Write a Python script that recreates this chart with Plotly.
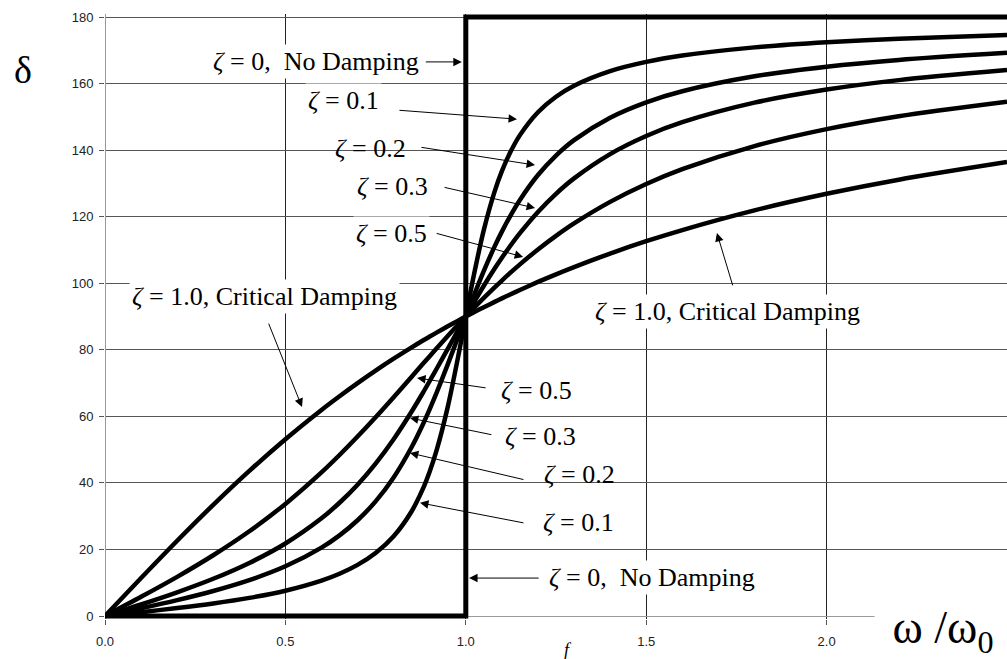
import plotly.graph_objects as go

# Frequency ratio omega/omega_0 at which each phase curve is sampled
ratio = [0, 0.1, 0.2, 0.3, 0.4, 0.5, 0.6, 0.65, 0.7, 0.75, 0.8, 0.85, 0.88, 0.9, 0.92, 0.95, 0.98, 1.0,
         1.02, 1.05, 1.08, 1.1, 1.12, 1.15, 1.2, 1.25, 1.3, 1.4, 1.5, 1.6, 1.8, 2.0, 2.2, 2.5]

# Phase angle delta (degrees) for each damping ratio zeta
delta_z01 = [0, 1.16, 2.39, 3.77, 5.44, 7.59, 10.62, 12.69, 15.35, 18.92, 23.96, 31.49, 37.96, 43.45,
             50.14, 62.84, 78.58, 90, 101.20, 116.02, 127.61, 133.67, 138.64, 144.50, 151.39, 156.04,
             159.35, 163.74, 166.50, 168.41, 170.87, 172.41, 173.46, 174.56]
delta_z02 = [0, 2.31, 4.76, 7.51, 10.78, 14.93, 20.56, 24.24, 28.77, 34.44, 41.63, 50.78, 57.34, 62.18,
             67.34, 75.61, 84.23, 90, 95.65, 103.71, 111.07, 115.51, 119.59, 125.03, 132.51, 138.37,
             143.00, 149.74, 154.36, 157.69, 162.18, 165.07, 167.09, 169.22]
delta_z03 = [0, 3.47, 7.13, 11.19, 15.95, 21.80, 29.36, 34.03, 39.47, 45.81, 53.13, 61.45, 66.86, 70.62,
             74.45, 80.29, 86.15, 90, 93.78, 99.24, 104.40, 107.65, 110.74, 115.05, 121.43, 126.87,
             131.50, 138.81, 144.25, 148.39, 154.26, 158.20, 161.03, 164.05]
delta_z05 = [0, 5.77, 11.77, 18.25, 25.46, 33.69, 43.15, 48.38, 53.93, 59.74, 65.77, 71.92, 75.62, 78.08,
             80.52, 84.14, 87.69, 90, 92.27, 95.58, 98.76, 100.81, 102.80, 105.67, 110.14, 114.23,
             117.96, 124.44, 129.81, 134.28, 141.22, 146.31, 150.19, 154.54]
delta_z10 = [0, 11.42, 22.62, 33.40, 43.60, 53.13, 61.93, 66.04, 69.98, 73.74, 77.32, 80.72, 82.70, 83.97,
             85.22, 87.06, 88.84, 90, 91.13, 92.79, 94.40, 95.45, 96.48, 97.98, 100.39, 102.68,
             104.86, 108.92, 112.62, 115.98, 121.89, 126.87, 131.11, 136.40]

# Undamped case: a step from 0 to 180 degrees at resonance
undamped_ratio = [0, 1.0, 1.0, 2.5]
undamped_delta = [0, 0, 180, 180]

x_ticks = [0.0, 0.5, 1.0, 1.5, 2.0]
x_tick_labels = ["0.0", "0.5", "1.0", "1.5", "2.0"]
y_ticks = [0, 20, 40, 60, 80, 100, 120, 140, 160, 180]

SERIF = "Liberation Serif, Times New Roman, serif"
SANS = "Liberation Sans, Arial, sans-serif"
Z = "<i>ζ</i>"
SP = "\u00a0"

fig = go.Figure()

fig.add_trace(go.Scatter(x=undamped_ratio, y=undamped_delta, mode="lines",
                         line=dict(color="black", width=5), showlegend=False))
for d in [delta_z10, delta_z05, delta_z03, delta_z02, delta_z01]:
    fig.add_trace(go.Scatter(x=ratio, y=d, mode="lines",
                             line=dict(color="black", width=4.5, shape="spline", smoothing=0.8),
                             showlegend=False))


def label(text, x, y, bg=True, size=26):
    return dict(x=x, y=y, xref="x", yref="y", text=text, showarrow=False,
                font=dict(family=SERIF, size=size, color="black"),
                bgcolor="white" if bg else "rgba(0,0,0,0)", borderpad=2)


def arrow(x0, y0, x1, y1):
    return dict(x=x1, y=y1, ax=x0, ay=y0, xref="x", yref="y", axref="x", ayref="y",
                text="", showarrow=True, arrowhead=2, arrowsize=1.7, arrowwidth=1,
                arrowcolor="black")


def title(text, x, y, size, **extra):
    return dict(x=x, y=y, xref="paper", yref="paper", xanchor="center", yanchor="middle",
                text=text, showarrow=False,
                font=dict(family=SERIF, size=size, color="black"), **extra)


annotations = [
    # labels for the curves above resonance
    label(f"{Z}{SP}={SP}0,{SP}{SP}No Damping", 0.584, 166.5),
    label(f"{Z}{SP}={SP}0.1", 0.662, 155.0),
    label(f"{Z}{SP}={SP}0.2", 0.737, 140.6, bg=False),
    label(f"{Z}{SP}={SP}0.3", 0.798, 129.2, bg=False),
    label(f"{Z}{SP}={SP}0.5", 0.793, 114.8),
    label(f"{Z}{SP}={SP}1.0, Critical Damping", 0.443, 96.0),
    label(f"{Z}{SP}={SP}1.0, Critical Damping", 1.724, 91.6),
    # labels for the curves below resonance
    label(f"{Z}{SP}={SP}0.5", 1.195, 67.9, bg=False),
    label(f"{Z}{SP}={SP}0.3", 1.206, 53.8, bg=False),
    label(f"{Z}{SP}={SP}0.2", 1.314, 42.4, bg=False),
    label(f"{Z}{SP}={SP}0.1", 1.311, 28.2, bg=False),
    label(f"{Z}{SP}={SP}0,{SP}{SP}No Damping", 1.516, 11.7),
    # pointer arrows
    arrow(0.885, 166.5, 0.989, 166.5),
    arrow(0.812, 152.0, 1.142, 149.3),
    arrow(0.873, 140.9, 1.192, 135.5),
    arrow(0.937, 128.9, 1.192, 122.6),
    arrow(0.915, 115.1, 1.159, 107.9),
    arrow(0.452, 88.3, 0.546, 62.8),
    arrow(1.741, 98.9, 1.696, 115.1),
    arrow(1.059, 68.5, 0.865, 71.5),
    arrow(1.075, 54.4, 0.845, 59.5),
    arrow(1.164, 40.9, 0.845, 49.0),
    arrow(1.164, 27.9, 0.873, 34.0),
    arrow(1.206, 11.4, 1.009, 11.4),
    # axis titles
    title("δ", -0.0909, 0.9074, 38),
    title("ω /ω<sub>0</sub>", 0.929, -0.020, 46, bgcolor="white", width=136,
          align="center", borderpad=0),
    title("<i>f</i>", 0.5133, -0.051, 18),
]

fig.update_layout(
    width=1007, height=659,
    margin=dict(l=105, r=0, t=14, b=40),
    paper_bgcolor="white", plot_bgcolor="white",
    annotations=annotations,
    xaxis=dict(range=[0, 2.5], tickvals=x_ticks, ticktext=x_tick_labels,
               showgrid=True, gridcolor="#222222", gridwidth=1,
               zeroline=True, zerolinecolor="#9a9a9a", zerolinewidth=1,
               showline=False, ticks="outside", ticklen=5, tickcolor="#555555",
               ticklabelstandoff=5,
               tickfont=dict(family=SANS, size=13, color="#222222")),
    yaxis=dict(range=[-0.9, 180.9], tickvals=y_ticks,
               showgrid=True, gridcolor="#555555", gridwidth=1,
               zeroline=True, zerolinecolor="#9a9a9a", zerolinewidth=1,
               showline=False, ticks="outside", ticklen=5, tickcolor="#555555",
               ticklabelstandoff=3,
               tickfont=dict(family=SANS, size=13, color="#222222")),
)

fig.write_html("out.html")
